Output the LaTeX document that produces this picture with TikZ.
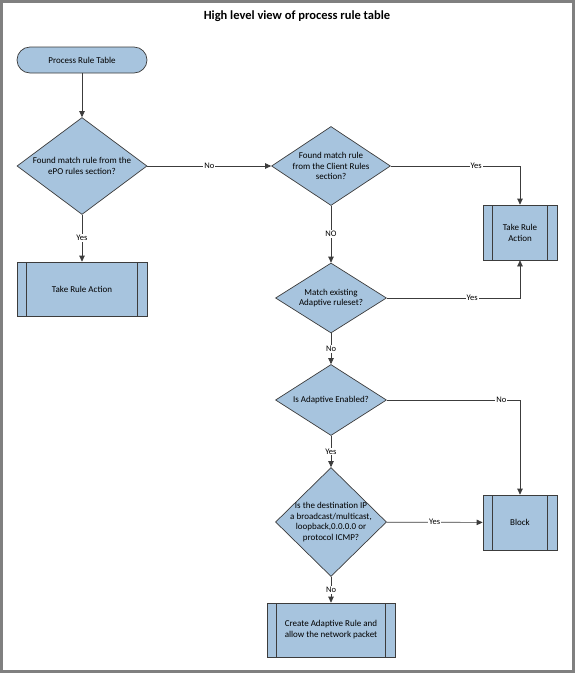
\documentclass[tikz,border=0pt]{standalone}
\usepackage{fontspec}
\setmainfont{Carlito}
\usetikzlibrary{arrows.meta,shapes.geometric,calc}

\definecolor{boxBlue}{RGB}{167,196,222}
\definecolor{edgeGray}{RGB}{60,60,60}
\definecolor{frameGray}{RGB}{128,128,128}

\begin{document}
\begin{tikzpicture}[x=1pt,y=-1pt,
    terminal/.style={rectangle,rounded corners=13pt,draw=edgeGray,fill=boxBlue,line width=0.7pt,
        minimum width=130pt,minimum height=26pt,inner sep=0pt,font=\fontsize{9}{11}\selectfont},
    decision/.style={diamond,draw=edgeGray,fill=boxBlue,line width=0.7pt,inner sep=0pt},
    dectext/.style={align=center,inner sep=0pt,font=\fontsize{9}{10.5}\selectfont},
    action/.style={rectangle,draw=edgeGray,fill=boxBlue,line width=0.7pt,align=center,inner sep=0pt,
        font=\fontsize{9}{11}\selectfont,
        path picture={
            \draw[edgeGray,line width=0.7pt] ([xshift=9.5pt]path picture bounding box.north west) -- ([xshift=9.5pt]path picture bounding box.south west);
            \draw[edgeGray,line width=0.7pt] ([xshift=-9.5pt]path picture bounding box.north east) -- ([xshift=-9.5pt]path picture bounding box.south east);}},
    flow/.style={-{Triangle[length=6pt,width=5.5pt]},draw=edgeGray,line width=0.7pt},
    lbl/.style={fill=white,inner sep=1pt,font=\fontsize{8.5}{10}\selectfont}]

    \useasboundingbox (0,0) rectangle (575,673);
    \draw[frameGray,line width=3pt] (1.5,1.5) rectangle (573.5,671.5);

    % Title
    \node[font=\bfseries\fontsize{12.5}{15}\selectfont] (title) at (297,16) {High level view of process rule table};

    % Start
    \node[terminal] (start1) at (82,60) {Process Rule Table};

    % Decisions
    \node[decision,minimum width=130pt,minimum height=97pt,
        label={[dectext]center:{Found match rule from the\\ePO rules section?}}] (dec1) at (82,166) {};
    \node[decision,minimum width=119pt,minimum height=79pt,
        label={[dectext]center:{Found match rule\\from the Client Rules\\section?}}] (dec2) at (331,166) {};
    \node[decision,minimum width=111pt,minimum height=70pt,
        label={[dectext]center:{Match existing\\Adaptive ruleset?}}] (dec3) at (331,298) {};
    \node[decision,minimum width=111pt,minimum height=71pt,
        label={[dectext]center:{Is Adaptive Enabled?}}] (dec4) at (331,400) {};
    \node[decision,minimum width=111pt,minimum height=109pt,
        label={[dectext]center:{Is the destination IP\\a broadcast/multicast,\\loopback,0.0.0.0 or\\protocol ICMP?}}] (dec5) at (331,522) {};

    % Actions
    \node[action,minimum width=130pt,minimum height=54pt] (act1) at (82,289) {Take Rule Action};
    \node[action,minimum width=74pt,minimum height=55pt] (act2) at (520,232.5) {Take Rule\\Action};
    \node[action,minimum width=74pt,minimum height=55pt] (block1) at (520,522.5) {Block};
    \node[action,minimum width=128pt,minimum height=54pt] (create1) at (331,630) {Create Adaptive Rule and\\allow the network packet};

    % Arcs
    \draw[flow] (start1) -- (dec1);
    \draw[flow] (dec1) -- node[lbl] {Yes} (act1);
    \draw[flow] (dec1) -- node[lbl] {No} (dec2);
    \draw[flow] (dec2.east) -| node[lbl,pos=0.33] {Yes} (act2.north);
    \draw[flow] (dec2) -- node[lbl] {NO} (dec3);
    \draw[flow] (dec3.east) -| node[lbl,pos=0.32] {Yes} (act2.south);
    \draw[flow] (dec3) -- node[lbl] {No} (dec4);
    \draw[flow] (dec4.east) -| node[lbl,pos=0.43] {No} (block1.north);
    \draw[flow] (dec4) -- node[lbl] {Yes} (dec5);
    \draw[flow] (dec5) -- node[lbl] {Yes} (block1);
    \draw[flow] (dec5) -- node[lbl] {No} (create1);
\end{tikzpicture}
\end{document}
